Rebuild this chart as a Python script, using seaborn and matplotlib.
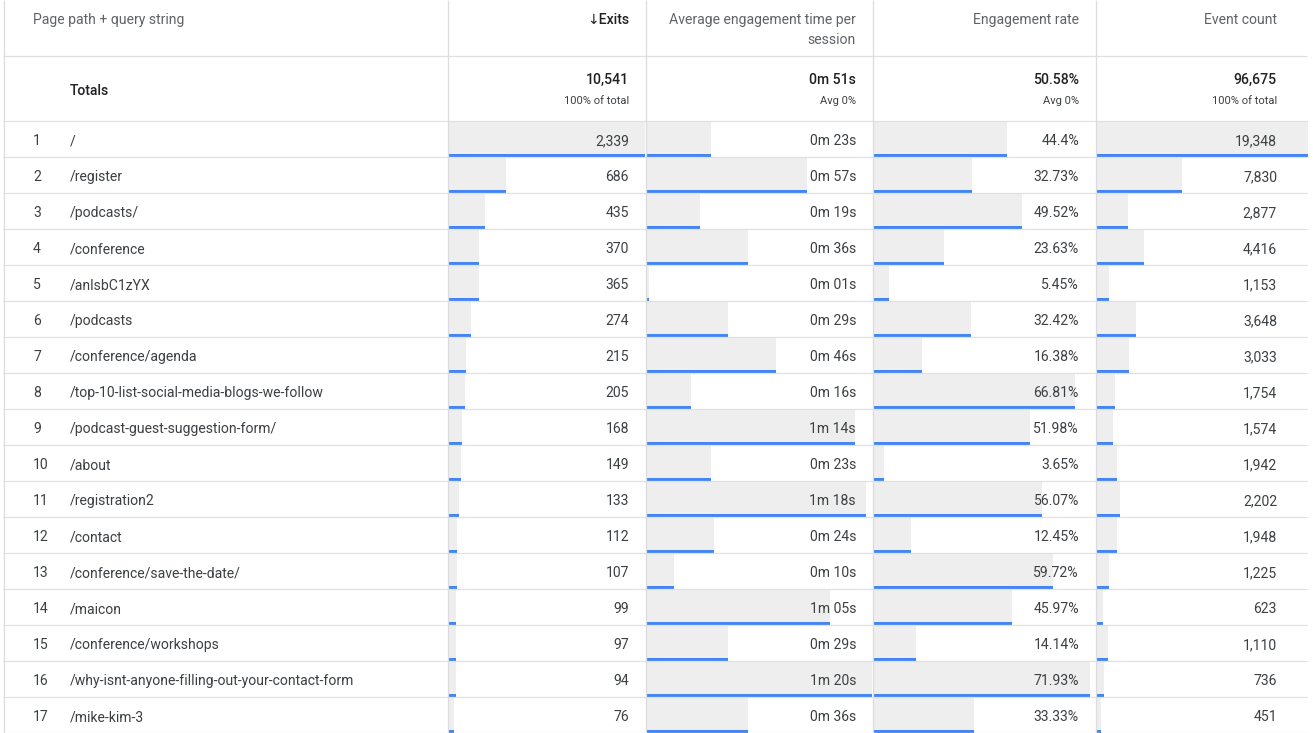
import numpy as np
import pandas as pd
import matplotlib
matplotlib.use("Agg")
import matplotlib.pyplot as plt
import seaborn as sns

sns.set_theme(style="white")
plt.rcParams['font.family'] = ['Roboto', 'DejaVu Sans']

# ---------------- data ----------------
paths = ["/", "/register", "/podcasts/", "/conference", "/anlsbC1zYX", "/podcasts",
         "/conference/agenda", "/top-10-list-social-media-blogs-we-follow",
         "/podcast-guest-suggestion-form/", "/about", "/registration2", "/contact",
         "/conference/save-the-date/", "/maicon", "/conference/workshops",
         "/why-isnt-anyone-filling-out-your-contact-form", "/mike-kim-3"]
exits = [2339, 686, 435, 370, 365, 274, 215, 205, 168, 149, 133, 112, 107, 99, 97, 94, 76]
avg_time_s = [23, 57, 19, 36, 1, 29, 46, 16, 74, 23, 78, 24, 10, 65, 29, 80, 36]
eng_rate = [44.4, 32.73, 49.52, 23.63, 5.45, 32.42, 16.38, 66.81, 51.98, 3.65,
            56.07, 12.45, 59.72, 45.97, 14.14, 71.93, 33.33]
events = [19348, 7830, 2877, 4416, 1153, 3648, 3033, 1754, 1574, 1942, 2202, 1948,
          1225, 623, 1110, 736, 451]

headers = ["Page path + query string", "\u2193Exits", "Average engagement time per",
           "session", "Engagement rate", "Event count"]
totals_main = ["10,541", "0m 51s", "50.58%", "96,675"]
totals_sub = ["100% of total", "Avg 0%", "Avg 0%", "100% of total"]

# ---------------- layout (pixels) ----------------
W, H = 1313, 733
edges = [3, 447, 645, 872, 1095, 1307]
text_right = [629, 856, 1079, 1277]
header_h, totals_bottom, row_h = 56, 121, 36
n = len(paths)

GRAY = "#eeeeee"
BLUE = "#4285f4"
LINE = "#e0e0e0"
TXT = "#3c4043"
HDR = "#5f6368"
DARK = "#202124"
fs = 10.1
fs_small = 8.0

fig = plt.figure(figsize=(W / 100, H / 100), dpi=100)
fig.patch.set_facecolor("white")

ranks = [str(i + 1) for i in range(n)]
df = pd.DataFrame({"rank": ranks, "path": paths, "exits": exits, "time": avg_time_s,
                   "rate": eng_rate, "events": events})

def fmt_int(v):
    return f"{v:,}"

def fmt_time(v):
    return f"{v // 60}m {v % 60:02d}s"

def fmt_rate(v):
    return f"{v}%"

metrics = [("exits", 0, max(exits), fmt_int, 0),
           ("time", 1, max(avg_time_s), fmt_time, 0),
           ("rate", 2, max(eng_rate), fmt_rate, 5),
           ("events", 3, max(events), fmt_int, 0)]

data_h = n * row_h
for col, ci, vmax, fmt, pad in metrics:
    x0 = edges[ci + 1] + 1
    w = edges[ci + 2] - x0 + (1 if ci == 3 else 0)
    ax = fig.add_axes([x0 / W, (H - totals_bottom - data_h) / H, w / W, data_h / H])
    sns.barplot(data=df, x=col, y="rank", order=ranks, orient="h", color=GRAY,
                saturation=1, width=1.0, ax=ax, linewidth=0, errorbar=None)
    ypos = np.arange(n) + 0.5 - 1.5 / row_h
    ax.barh(ypos, df[col].values, height=3 / row_h, color=BLUE, linewidth=0)
    ax.set_xlim(0, vmax * w / (w - pad))
    ax.set_ylim(n - 0.5, -0.5)
    ax.set_axis_off()

# overlay for lines and text
ov = fig.add_axes([0, 0, 1, 1], zorder=10)
ov.set_xlim(0, W)
ov.set_ylim(H, 0)
ov.patch.set_alpha(0)
ov.set_axis_off()

# horizontal separators
hy = [header_h, totals_bottom] + [totals_bottom + row_h * (i + 1) for i in range(n)]
for y in hy:
    ov.plot([edges[0], edges[-1]], [y, y], color=LINE, lw=0.9, solid_capstyle="butt")
for x in edges[:-1]:
    ov.plot([x + 0.5, x + 0.5], [0, H], color="#dadce0", lw=0.9, solid_capstyle="butt")

# headers
ov.text(33, 24, headers[0], ha="left", va="baseline", fontsize=fs, color=HDR)
ov.text(text_right[0], 24, headers[1], ha="right", va="baseline", fontsize=fs,
        color=DARK, fontweight="medium")
ov.text(text_right[1], 24, headers[2], ha="right", va="baseline", fontsize=fs, color=HDR)
ov.text(text_right[1], 44, headers[3], ha="right", va="baseline", fontsize=fs, color=HDR)
ov.text(text_right[2], 24, headers[4], ha="right", va="baseline", fontsize=fs, color=HDR)
ov.text(text_right[3], 24, headers[5], ha="right", va="baseline", fontsize=fs, color=HDR)

# totals
ov.text(70, 95, "Totals", ha="left", va="baseline", fontsize=fs, color=DARK,
        fontweight="medium")
for i in range(4):
    ov.text(text_right[i], 84, totals_main[i], ha="right", va="baseline", fontsize=fs,
            color=DARK, fontweight="medium")
    ov.text(text_right[i], 104.5, totals_sub[i], ha="right", va="baseline",
            fontsize=fs_small, color=TXT)

# rows
for r in range(n):
    yb = totals_bottom + row_h * r + 24
    ov.text(33, yb, ranks[r], ha="left", va="baseline", fontsize=fs, color=TXT)
    ov.text(70, yb, paths[r], ha="left", va="baseline", fontsize=fs, color=TXT)
    for col, ci, vmax, fmt, pad in metrics:
        ov.text(text_right[ci], yb, fmt(df[col].iloc[r]), ha="right", va="baseline",
                fontsize=fs, color=TXT)

fig.savefig("out.png", dpi=100, facecolor="white")
